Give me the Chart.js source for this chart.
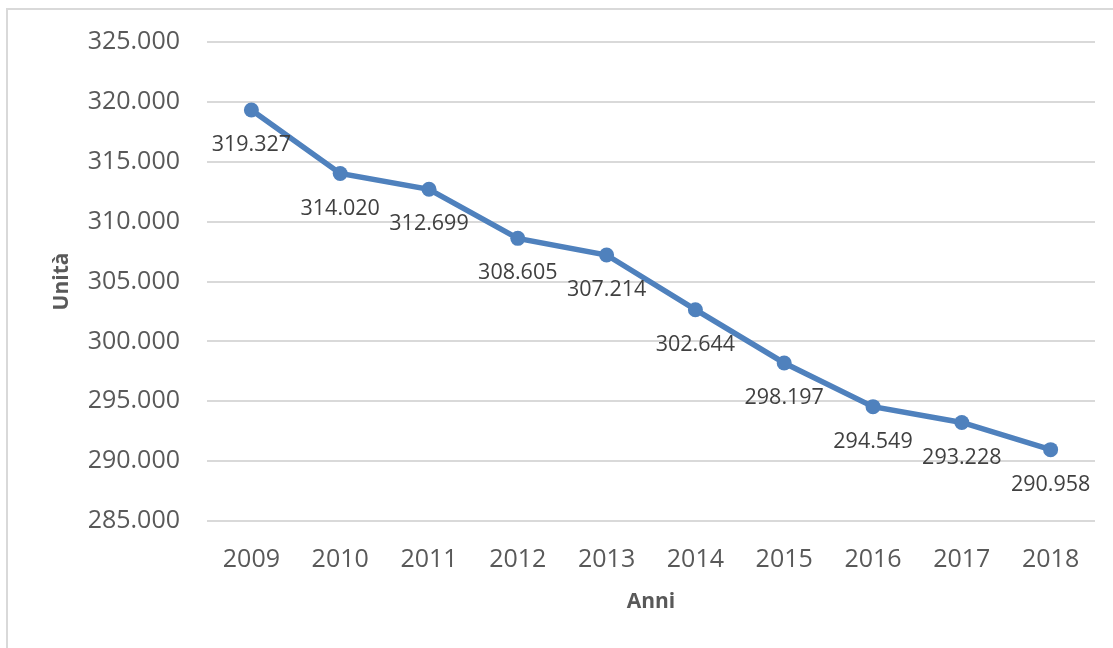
<!DOCTYPE html>
<html>
<head>
<meta charset="utf-8">
<script src="https://cdn.jsdelivr.net/npm/chart.js@4"></script>
<style>
  html, body { margin: 0; padding: 0; background: #ffffff; }
  #wrap { position: relative; width: 1113px; height: 648px; }
</style>
</head>
<body>
<div id="wrap"><canvas id="c" width="1113" height="648"></canvas></div>
<script>
const years = ['2009','2010','2011','2012','2013','2014','2015','2016','2017','2018'];
const units = [319327, 314020, 312699, 308605, 307214, 302644, 298197, 294549, 293228, 290958];
const yMin = 285000;
const yMax = 325000;
const yStep = 5000;
const yTitle = 'Unità';
const xTitle = 'Anni';

const FONT = '"Open Sans", "Liberation Sans", sans-serif';
const TEXT = '#595959';
const GRID = '#D9D9D9';
const BLUE = '#4F81BD';

function fmt(v) {
  const s = Math.round(v).toString();
  return s.replace(/\B(?=(\d{3})+(?!\d))/g, '.');
}

const borderPlugin = {
  id: 'frame',
  beforeDraw(chart) {
    const ctx = chart.ctx;
    ctx.save();
    ctx.fillStyle = '#ffffff';
    ctx.fillRect(0, 0, chart.width, chart.height);
    ctx.strokeStyle = '#D9D9D9';
    ctx.lineWidth = 2;
    ctx.strokeRect(7, 9, chart.width + 20, chart.height + 20);
    ctx.restore();
  }
};

const labelPlugin = {
  id: 'pointLabels',
  afterDatasetsDraw(chart) {
    const ctx = chart.ctx;
    const meta = chart.getDatasetMeta(0);
    ctx.save();
    ctx.font = '21.5px ' + FONT;
    ctx.fillStyle = '#404040';
    ctx.textAlign = 'center';
    ctx.textBaseline = 'middle';
    meta.data.forEach((pt, i) => {
      ctx.fillText(fmt(chart.data.datasets[0].data[i]), pt.x, pt.y + 35);
    });
    ctx.restore();
  }
};

new Chart(document.getElementById('c'), {
  type: 'line',
  data: {
    labels: years,
    datasets: [{
      data: units,
      borderColor: BLUE,
      backgroundColor: BLUE,
      borderWidth: 5.5,
      pointRadius: 7.5,
      pointHoverRadius: 7.5,
      pointBackgroundColor: BLUE,
      pointBorderColor: BLUE,
      pointBorderWidth: 0,
      tension: 0,
      fill: false
    }]
  },
  options: {
    responsive: false,
    animation: false,
    devicePixelRatio: 1,
    layout: { padding: { left: 0, right: 18, top: 41, bottom: 0 } },
    plugins: { legend: { display: false }, tooltip: { enabled: false } },
    scales: {
      x: {
        offset: true,
        grid: { display: false, drawTicks: false },
        border: { display: false },
        ticks: { color: TEXT, font: { family: FONT, size: 25 }, padding: 24, maxRotation: 0 },
        title: { display: true, text: xTitle, color: TEXT, font: { family: FONT, size: 21, weight: 'bold' }, padding: { top: 0, bottom: 33 } },
        afterFit(scale) { scale.height = 127; }
      },
      y: {
        min: yMin,
        max: yMax,
        grid: { color: GRID, lineWidth: 2, drawTicks: false },
        border: { display: false },
        ticks: {
          stepSize: yStep,
          color: TEXT,
          font: { family: FONT, size: 25 },
          padding: 27,
          callback: (v) => fmt(v)
        },
        title: { display: true, text: yTitle, color: TEXT, font: { family: FONT, size: 21, weight: 'bold' }, padding: { top: 49, bottom: 0 } },
        afterFit(scale) { scale.width = 207; }
      }
    }
  },
  plugins: [borderPlugin, labelPlugin]
});
</script>
</body>
</html>
